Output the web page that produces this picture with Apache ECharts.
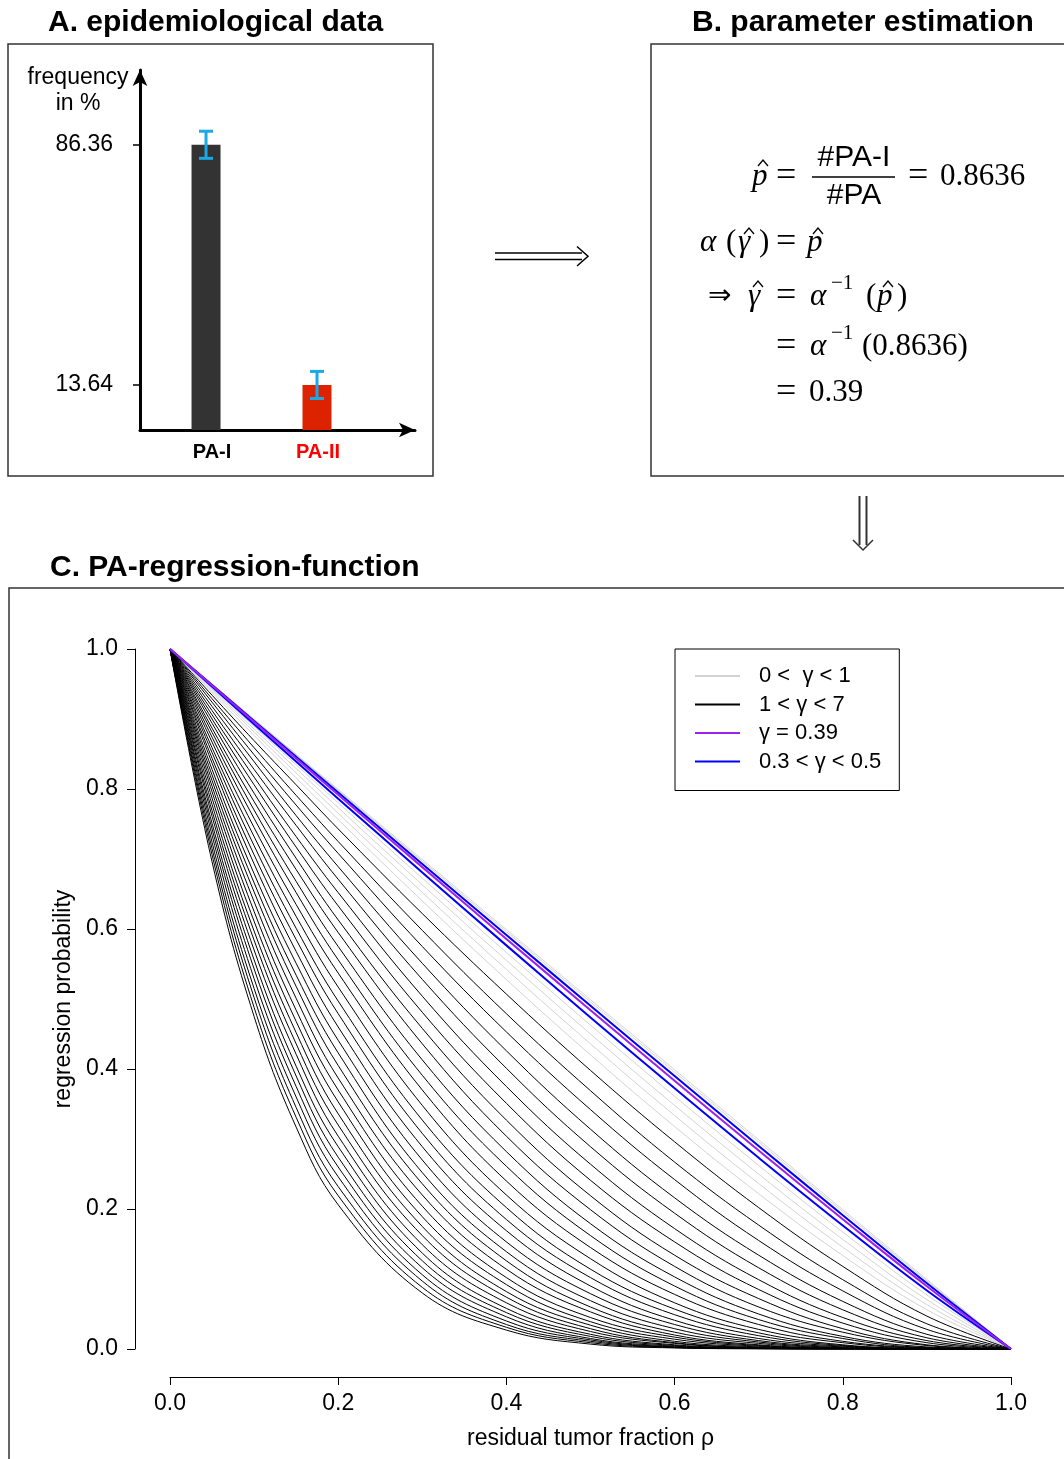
<!DOCTYPE html>
<html><head><meta charset="utf-8">
<script src="https://cdn.jsdelivr.net/npm/echarts@6/dist/echarts.min.js"></script>
<style>html,body{margin:0;padding:0;background:#fff}#c{width:1064px;height:1459px}</style>
</head><body><div id="c"></div>
<script>
// ---------- Panel A data ----------
const paCategories = ['PA-I', 'PA-II'];
const paFrequency = [86.36, 13.64];
const paErrorHalf = [4.1, 4.1];
const paTickValues = [13.64, 86.36];
const paBarColors = ['#333333', '#dd2200'];
const paLabelColors = ['#000000', '#ff0000'];

// ---------- Panel C data ----------
const cTickValues = [0, 0.2, 0.4, 0.6, 0.8, 1.0];
const legendLabels = ['0 <  \u03b3 < 1', '1 < \u03b3 < 7', '\u03b3 = 0.39', '0.3 < \u03b3 < 0.5'];

const blackX = [0, 0.05, 0.1, 0.15, 0.2, 0.3, 0.4, 0.5, 0.6, 0.7, 0.8, 0.9, 1];
const blackCurve01 = [1, 0.934, 0.869, 0.806, 0.743, 0.622, 0.507, 0.398, 0.296, 0.202, 0.118, 0.047, 0];
const blackCurve02 = [1, 0.929, 0.859, 0.791, 0.725, 0.598, 0.479, 0.369, 0.267, 0.177, 0.099, 0.036, 0];
const blackCurve03 = [1, 0.924, 0.849, 0.777, 0.708, 0.575, 0.453, 0.342, 0.242, 0.155, 0.083, 0.028, 0];
const blackCurve04 = [1, 0.918, 0.839, 0.762, 0.689, 0.551, 0.426, 0.314, 0.216, 0.134, 0.068, 0.021, 0];
const blackCurve05 = [1, 0.912, 0.828, 0.748, 0.671, 0.528, 0.401, 0.289, 0.194, 0.116, 0.056, 0.016, 0];
const blackCurve06 = [1, 0.906, 0.817, 0.732, 0.652, 0.504, 0.375, 0.264, 0.172, 0.099, 0.045, 0.012, 0];
const blackCurve07 = [1, 0.900, 0.806, 0.717, 0.633, 0.481, 0.351, 0.241, 0.153, 0.085, 0.037, 0.009, 0];
const blackCurve08 = [1, 0.894, 0.794, 0.701, 0.613, 0.458, 0.327, 0.219, 0.134, 0.072, 0.029, 0.006, 0];
const blackCurve09 = [1, 0.887, 0.782, 0.685, 0.595, 0.436, 0.304, 0.199, 0.118, 0.060, 0.024, 0.005, 0];
const blackCurve10 = [1, 0.881, 0.770, 0.668, 0.575, 0.413, 0.282, 0.179, 0.103, 0.050, 0.018, 0.003, 0];
const blackCurve11 = [1, 0.874, 0.758, 0.652, 0.556, 0.391, 0.261, 0.162, 0.090, 0.042, 0.015, 0.002, 0];
const blackCurve12 = [1, 0.867, 0.745, 0.635, 0.537, 0.370, 0.240, 0.145, 0.078, 0.035, 0.011, 0.0016, 0];
const blackCurve13 = [1, 0.859, 0.732, 0.618, 0.517, 0.348, 0.220, 0.129, 0.066, 0.028, 0.009, 0.001, 0];
const blackCurve14 = [1, 0.852, 0.719, 0.601, 0.497, 0.327, 0.202, 0.114, 0.057, 0.023, 0.006, 0.0007, 0];
const blackCurve15 = [1, 0.844, 0.706, 0.585, 0.479, 0.308, 0.185, 0.102, 0.049, 0.019, 0.005, 0.0005, 0];
const blackCurve16 = [1, 0.837, 0.693, 0.568, 0.460, 0.289, 0.169, 0.090, 0.041, 0.015, 0.004, 0.0003, 0];
const blackCurve17 = [1, 0.828, 0.679, 0.551, 0.441, 0.270, 0.153, 0.079, 0.035, 0.012, 0.003, 0.0002, 0];
const blackCurve18 = [1, 0.820, 0.666, 0.534, 0.423, 0.252, 0.139, 0.069, 0.029, 0.010, 0.002, 0.0001, 0];
const blackCurve19 = [1, 0.812, 0.653, 0.518, 0.405, 0.236, 0.126, 0.060, 0.024, 0.008, 0.0015, 0, 0];
const blackCurve20 = [1, 0.804, 0.639, 0.501, 0.387, 0.220, 0.114, 0.053, 0.020, 0.006, 0.001, 0, 0];
const blackCurve21 = [1, 0.796, 0.625, 0.484, 0.370, 0.204, 0.102, 0.045, 0.017, 0.005, 0.0008, 0, 0];
const blackCurve22 = [1, 0.787, 0.611, 0.468, 0.353, 0.189, 0.092, 0.039, 0.014, 0.004, 0.0005, 0, 0];
const blackCurve23 = [1, 0.778, 0.597, 0.452, 0.336, 0.175, 0.082, 0.034, 0.011, 0.003, 0.0004, 0, 0];
const blackCurve24 = [1, 0.769, 0.584, 0.436, 0.320, 0.162, 0.074, 0.029, 0.009, 0.002, 0.0003, 0, 0];
const blackCurve25 = [1, 0.761, 0.570, 0.421, 0.304, 0.149, 0.066, 0.025, 0.008, 0.0016, 0.0002, 0, 0];
const blackCurve26 = [1, 0.751, 0.556, 0.404, 0.289, 0.137, 0.058, 0.021, 0.006, 0.0012, 0.0001, 0, 0];
const blackCurve27 = [1, 0.743, 0.543, 0.390, 0.274, 0.126, 0.052, 0.018, 0.005, 0.0009, 0.0001, 0, 0];
const blackCurve28 = [1, 0.734, 0.529, 0.375, 0.260, 0.116, 0.046, 0.015, 0.004, 0.0007, 0, 0, 0];
const blackCurve29 = [1, 0.724, 0.515, 0.360, 0.246, 0.106, 0.040, 0.013, 0.003, 0.0005, 0, 0, 0];
const blackCurve30 = [1, 0.715, 0.502, 0.345, 0.232, 0.097, 0.035, 0.011, 0.0025, 0.0004, 0, 0, 0];
const blackCurve31 = [1, 0.706, 0.488, 0.331, 0.219, 0.088, 0.031, 0.009, 0.002, 0.0003, 0, 0, 0];
const blackCurve32 = [1, 0.696, 0.475, 0.317, 0.206, 0.080, 0.027, 0.007, 0.0015, 0.0002, 0, 0, 0];

const greyX = [0, 0.1, 0.2, 0.3, 0.4, 0.5, 0.6, 0.7, 0.8, 0.9, 1];
const greyCurve1 = [1, 0.8997, 0.7995, 0.6993, 0.5991, 0.4990, 0.3989, 0.2989, 0.1990, 0.0993, 0];
const greyCurve2 = [1, 0.8989, 0.7979, 0.6970, 0.5963, 0.4959, 0.3956, 0.2957, 0.1962, 0.0973, 0];
const greyCurve3 = [1, 0.8973, 0.7950, 0.6930, 0.5915, 0.4904, 0.3899, 0.2901, 0.1912, 0.0938, 0];
const greyCurve4 = [1, 0.8953, 0.7911, 0.6876, 0.5849, 0.4830, 0.3821, 0.2825, 0.1845, 0.0891, 0];
const greyCurve5 = [1, 0.8926, 0.7862, 0.6808, 0.5766, 0.4737, 0.3724, 0.2731, 0.1764, 0.0836, 0];
const greyCurve6 = [1, 0.8894, 0.7803, 0.6726, 0.5666, 0.4627, 0.3610, 0.2622, 0.1670, 0.0773, 0];
const greyCurve7 = [1, 0.8857, 0.7733, 0.6631, 0.5552, 0.4500, 0.3480, 0.2498, 0.1566, 0.0705, 0];
const greyCurve8 = [1, 0.8814, 0.7654, 0.6523, 0.5423, 0.4359, 0.3336, 0.2364, 0.1454, 0.0634, 0];
const greyCurve9 = [1, 0.8765, 0.7564, 0.6401, 0.5278, 0.4202, 0.3178, 0.2218, 0.1335, 0.0561, 0];

const blueCurveLow  = [1, 0.8973, 0.7950, 0.6930, 0.5915, 0.4904, 0.3899, 0.2901, 0.1912, 0.0938, 0];
const purpleCurve   = [1, 0.8956, 0.7917, 0.6884, 0.5858, 0.4840, 0.3831, 0.2835, 0.1854, 0.0897, 0];
const blueCurveHigh = [1, 0.8926, 0.7862, 0.6808, 0.5766, 0.4737, 0.3724, 0.2731, 0.1764, 0.0836, 0];

// ---------- build ----------
const blackCurves = [blackCurve01, blackCurve02, blackCurve03, blackCurve04, blackCurve05, blackCurve06, blackCurve07, blackCurve08,
  blackCurve09, blackCurve10, blackCurve11, blackCurve12, blackCurve13, blackCurve14, blackCurve15, blackCurve16,
  blackCurve17, blackCurve18, blackCurve19, blackCurve20, blackCurve21, blackCurve22, blackCurve23, blackCurve24,
  blackCurve25, blackCurve26, blackCurve27, blackCurve28, blackCurve29, blackCurve30, blackCurve31, blackCurve32];
const greyCurves = [greyCurve1, greyCurve2, greyCurve3, greyCurve4, greyCurve5, greyCurve6, greyCurve7, greyCurve8, greyCurve9];

const SANS = '"Liberation Sans", Arial, sans-serif';
const SERIF = '"Liberation Serif", "Times New Roman", serif';

function curve(name, xs, ys, color, width, z) {
  return {
    type: 'line', name, xAxisIndex: 1, yAxisIndex: 1,
    data: xs.map((x, i) => [x, ys[i]]),
    smooth: 0.4, showSymbol: false, symbol: 'none', silent: true,
    color, lineStyle: { color, width }, itemStyle: { color }, z
  };
}

const series = [];
// Panel A bars
series.push({
  type: 'bar', xAxisIndex: 0, yAxisIndex: 0, barWidth: 29, silent: true,
  data: paCategories.map((c, i) => ({ value: [i, paFrequency[i]], itemStyle: { color: paBarColors[i] } }))
});
series.push({
  type: 'custom', xAxisIndex: 0, yAxisIndex: 0, silent: true, z: 5,
  encode: { x: 0, y: [1, 2] },
  data: paCategories.map((c, i) => [i, paFrequency[i] - paErrorHalf[i], paFrequency[i] + paErrorHalf[i]]),
  renderItem: function (params, api) {
    const lo = api.coord([api.value(0), api.value(1)]);
    const hi = api.coord([api.value(0), api.value(2)]);
    const st = { stroke: '#1aa9e6', lineWidth: 3 };
    const cap = 7;
    return { type: 'group', children: [
      { type: 'line', shape: { x1: lo[0], y1: lo[1], x2: hi[0], y2: hi[1] }, style: st },
      { type: 'line', shape: { x1: lo[0] - cap, y1: lo[1], x2: lo[0] + cap, y2: lo[1] }, style: st },
      { type: 'line', shape: { x1: hi[0] - cap, y1: hi[1], x2: hi[0] + cap, y2: hi[1] }, style: st }
    ]};
  }
});
// Panel C curves
greyCurves.forEach(c => series.push(curve(legendLabels[0], greyX, c, '#d3d3d3', 1, 2)));
blackCurves.forEach(c => series.push(curve(legendLabels[1], blackX, c, '#000000', 1, 3)));
series.push(curve(legendLabels[3], greyX, blueCurveLow, '#0000ff', 2, 4));
series.push(curve(legendLabels[3], greyX, blueCurveHigh, '#0000ff', 2, 4));
series.push(curve(legendLabels[2], greyX, purpleCurve, '#a020f0', 2, 5));

// ---------- graphics: boxes, titles, arrows, math ----------
function txt(x, y, s, font, extra) {
  return { type: 'text', x, y, silent: true, z: 10,
    style: Object.assign({ text: s, font, fill: '#000', textAlign: 'left', textVerticalAlign: 'middle', align: 'left', verticalAlign: 'middle' }, extra || {}) };
}
function hat(cx, cy) {
  return { type: 'polyline', silent: true, z: 10, shape: { points: [[cx - 5, cy + 3], [cx, cy - 3], [cx + 5, cy + 3]] },
    style: { stroke: '#000', lineWidth: 1.3, fill: null } };
}
function seg(x1, y1, x2, y2, stroke, w) {
  return { type: 'line', silent: true, z: 10, shape: { x1, y1, x2, y2 }, style: { stroke, lineWidth: w } };
}
const M = 31;
const IT = `italic ${M}px ${SERIF}`;
const RM = `${M}px ${SERIF}`;
const EQ = `36px ${SERIF}`;
const SUP = `21px ${SERIF}`;
const TITLE = `bold 30px ${SANS}`;

const graphic = [
  { type: 'rect', silent: true, z: 1, shape: { x: 8, y: 44, width: 425, height: 432 }, style: { stroke: '#333', lineWidth: 1.5, fill: null } },
  { type: 'rect', silent: true, z: 1, shape: { x: 651, y: 44, width: 440, height: 432 }, style: { stroke: '#333', lineWidth: 1.5, fill: null } },
  { type: 'rect', silent: true, z: 1, shape: { x: 9, y: 588, width: 1080, height: 900 }, style: { stroke: '#333', lineWidth: 1.5, fill: null } },
  txt(48, 23, 'A. epidemiological data', TITLE),
  txt(692, 23, 'B. parameter estimation', TITLE),
  txt(50, 568, 'C. PA-regression-function', TITLE),
  txt(78, 78, 'frequency', `23px ${SANS}`, { textAlign: 'center', align: 'center' }),
  txt(78, 104, 'in %', `23px ${SANS}`, { textAlign: 'center', align: 'center' }),
  // right double arrow
  seg(495, 253, 582, 253, '#000', 1.5),
  seg(495, 259.5, 582, 259.5, '#000', 1.5),
  { type: 'polyline', silent: true, z: 10, shape: { points: [[577, 246.5], [588, 256.3], [577, 266]] }, style: { stroke: '#000', lineWidth: 1.5, fill: null } },
  // down double arrow
  seg(859.5, 496, 859.5, 545, '#333', 2),
  seg(866.5, 496, 866.5, 545, '#333', 2),
  { type: 'polyline', silent: true, z: 10, shape: { points: [[853, 540], [863, 550], [873, 540]] }, style: { stroke: '#333', lineWidth: 1.5, fill: null } },
  // math line 1
  txt(752, 177, 'p', IT), hat(763, 163),
  txt(776, 177, '=', EQ),
  txt(854, 158, '#PA-I', `30px ${SANS}`, { textAlign: 'center', align: 'center' }),
  seg(812, 177, 895, 177, '#000', 1.5),
  txt(854, 196, '#PA', `30px ${SANS}`, { textAlign: 'center', align: 'center' }),
  txt(908, 177, '=', EQ),
  txt(940, 177, '0.8636', RM),
  // line 2
  txt(700, 243, '\u03b1', IT),
  txt(726, 243, '(', RM),
  txt(738, 243, '\u03b3', IT), hat(749, 231),
  txt(759, 243, ')', RM),
  txt(776, 243, '=', EQ),
  txt(807, 243, 'p', IT), hat(818, 231),
  // line 3
  txt(708, 297, '\u21d2', `28px "DejaVu Sans", sans-serif`),
  txt(748, 297, '\u03b3', IT), hat(758, 284),
  txt(776, 297, '=', EQ),
  txt(810, 297, '\u03b1', IT),
  txt(831, 283, '\u22121', SUP),
  txt(866, 297, '(', RM),
  txt(877, 297, 'p', IT), hat(888, 284),
  txt(897, 297, ')', RM),
  // line 4
  txt(776, 347, '=', EQ),
  txt(810, 347, '\u03b1', IT),
  txt(831, 333, '\u22121', SUP),
  txt(862, 347, '(0.8636)', RM),
  // line 5
  txt(776, 393, '=', EQ),
  txt(809, 393, '0.39', RM)
];

const option = {
  animation: false,
  backgroundColor: '#ffffff',
  textStyle: { fontFamily: SANS },
  grid: [
    { left: 140, top: 70, width: 275, height: 360, outerBoundsMode: 'none' },
    { left: 170, top: 649, width: 841, height: 700, outerBoundsMode: 'none' }
  ],
  xAxis: [
    { type: 'value', gridIndex: 0, min: -0.595, max: 1.883,
      axisLine: { show: true, onZero: false, symbol: ['none', 'arrow'], symbolSize: [11, 16], lineStyle: { color: '#000', width: 3 } },
      axisTick: { show: false }, splitLine: { show: false },
      axisLabel: { customValues: [0, 1], margin: 12, fontSize: 20, fontWeight: 'bold', fontFamily: SANS,
        formatter: v => '{c' + Math.round(v) + '|' + paCategories[Math.round(v)] + '}',
        rich: { c0: { color: paLabelColors[0], fontSize: 20, fontWeight: 'bold', fontFamily: SANS, padding: [0, 0, 0, 12] }, c1: { color: paLabelColors[1], fontSize: 20, fontWeight: 'bold', fontFamily: SANS, padding: [0, 0, 0, 2] } } } },
    { type: 'value', gridIndex: 1, min: 0, max: 1, interval: 0.2, offset: 28,
      axisLine: { show: true, onZero: false, lineStyle: { color: '#000', width: 1 } },
      axisTick: { show: true, length: 8, lineStyle: { color: '#000', width: 1 } },
      splitLine: { show: false },
      axisLabel: { color: '#000', fontSize: 23, fontFamily: SANS, margin: 15, formatter: v => v.toFixed(1) },
      name: 'residual tumor fraction \u03c1', nameLocation: 'middle', nameGap: 50,
      nameTextStyle: { color: '#000', fontSize: 23, fontFamily: SANS } }
  ],
  yAxis: [
    { type: 'value', gridIndex: 0, min: 0, max: 109,
      axisLine: { show: true, onZero: false, symbol: ['none', 'arrow'], symbolSize: [11, 16], lineStyle: { color: '#000', width: 3 } },
      axisTick: { show: true, customValues: paTickValues, length: 7, lineStyle: { color: '#000', width: 1.5 } },
      splitLine: { show: false },
      axisLabel: { customValues: paTickValues, color: '#000', fontSize: 23, fontFamily: SANS, margin: 27, formatter: v => v.toFixed(2) } },
    { type: 'value', gridIndex: 1, min: 0, max: 1, interval: 0.2, offset: 35,
      axisLine: { show: true, onZero: false, lineStyle: { color: '#000', width: 1 } },
      axisTick: { show: true, length: 8, lineStyle: { color: '#000', width: 1 } },
      splitLine: { show: false },
      axisLabel: { color: '#000', fontSize: 23, fontFamily: SANS, margin: 17, formatter: v => v.toFixed(1) },
      name: 'regression probability', nameLocation: 'middle', nameGap: 47, nameRotate: 90,
      nameTextStyle: { color: '#000', fontSize: 23, fontFamily: SANS } }
  ],
  legend: {
    data: legendLabels, orient: 'vertical', left: 675, top: 649,
    icon: 'rect', itemWidth: 45, itemHeight: 2, itemGap: 6.5,
    padding: [16, 18, 18, 20], borderColor: '#000', borderWidth: 1, selectedMode: false,
    textStyle: { fontSize: 22, color: '#000', fontFamily: SANS, lineHeight: 22, padding: [0, 0, 0, 14] }
  },
  series,
  graphic
};

const chart = echarts.init(document.getElementById('c'), null, { renderer: 'canvas', width: 1064, height: 1459 });
chart.setOption(option);
</script>
</body></html>
